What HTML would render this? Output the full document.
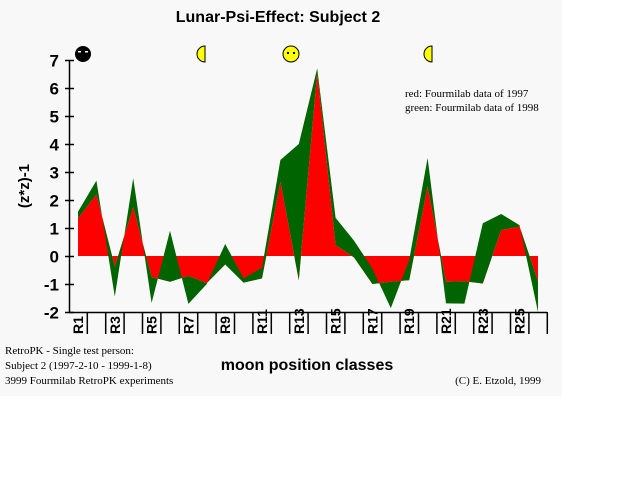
<!DOCTYPE html>
<html><head><meta charset="utf-8"><style>
html,body{margin:0;padding:0;background:#fff;width:640px;height:480px;overflow:hidden}
svg{display:block}
.ax{font-family:"Liberation Sans",Arial,sans-serif;font-weight:bold}
.sr{font-family:"Liberation Serif","Times New Roman",serif}
</style></head><body>
<svg id="s" width="640" height="480" xmlns="http://www.w3.org/2000/svg">
<rect x="0" y="0" width="562" height="396" fill="#f8f8f8"/>
<text x="278" y="22" text-anchor="middle" class="ax" font-size="16">Lunar-Psi-Effect: Subject 2</text>
<polygon id="red" fill="#ff0000"/>
<polygon id="grn" fill="#006400"/>
<g id="axes" stroke="#000" stroke-width="1.5"></g>
<g id="lbl"></g>
<text x="29" y="186" class="ax" font-size="15" text-anchor="middle" transform="rotate(-90 29 186)">(z*z)-1</text>
<text x="307" y="370" class="ax" font-size="16" text-anchor="middle">moon position classes</text>
<text x="5" y="354" class="sr" font-size="11">RetroPK - Single test person:</text>
<text x="5" y="369" class="sr" font-size="11">Subject 2 (1997-2-10 - 1999-1-8)</text>
<text x="5" y="384" class="sr" font-size="11">3999 Fourmilab RetroPK experiments</text>
<text x="541" y="384" class="sr" font-size="11" text-anchor="end">(C) E. Etzold, 1999</text>
<text x="405" y="97" class="sr" font-size="11">red: Fourmilab data of 1997</text>
<text x="405" y="111" class="sr" font-size="11">green: Fourmilab data of 1998</text>
<circle cx="83" cy="54" r="8" fill="#000"/>
<rect x="78" y="51" width="3" height="1.5" fill="#fff"/><rect x="85" y="51" width="3" height="1.5" fill="#fff"/>
<path d="M205 46 A8 8 0 0 0 205 62 Z" fill="#ffff00" stroke="#000" stroke-width="1"/>
<circle cx="291" cy="54" r="8" fill="#ffff00" stroke="#000" stroke-width="1"/>
<rect x="287" y="52" width="2" height="2" fill="#000"/><rect x="293" y="52" width="2" height="2" fill="#000"/>
<path d="M432 46 A8 8 0 0 0 432 62 Z" fill="#ffff00" stroke="#000" stroke-width="1"/>
</svg>
<script>
var r=[1.35,2.2,-0.38,1.75,-0.75,-0.92,-0.71,-0.97,-0.3,-0.95,-0.8,2.65,-0.86,6.55,0.39,-0.05,-1.0,-0.92,-0.86,2.48,-0.92,-0.9,-0.98,0.93,1.05,-0.9];
var g=[1.58,2.69,-1.45,2.78,-1.68,0.9,-1.71,-1.0,0.43,-0.8,-0.42,3.43,4.0,6.7,1.36,0.55,-0.45,-1.86,-0.14,3.5,-1.69,-1.7,1.17,1.5,1.1,-2.0];
function X(i){return 78+i*18.4} function Y(v){return 256-28*v}
var rp=[],gp=[],gb=[];
for(var i=0;i<26;i++){rp.push(X(i)+","+Y(r[i]));gp.push(X(i)+","+Y(g[i]));}
document.getElementById('red').setAttribute('points',X(0)+",256 "+rp.join(" ")+" "+X(25)+",256");
document.getElementById('grn').setAttribute('points',gp.join(" ")+" "+rp.slice().reverse().join(" "));
var ns="http://www.w3.org/2000/svg",ax=document.getElementById('axes'),lb=document.getElementById('lbl');
function L(x1,y1,x2,y2){var l=document.createElementNS(ns,'line');l.setAttribute('x1',x1);l.setAttribute('y1',y1);l.setAttribute('x2',x2);l.setAttribute('y2',y2);ax.appendChild(l);}
L(69.5,60,69.5,313);L(69,312.5,547,312.5);
for(var v=-2;v<=7;v++){var y=Y(v)+0.5;L(65,y,74,y);
 var t=document.createElementNS(ns,'text');t.setAttribute('x',59);t.setAttribute('y',y+6);t.setAttribute('text-anchor','end');t.setAttribute('class','ax');t.setAttribute('font-size','17');t.textContent=v;lb.appendChild(t);}
for(var i=0;i<26;i++){var x=87.3+i*18.4;L(x,312,x,334);}
for(var i=0;i<26;i+=2){var cx=X(i)+5,cy=334;var t=document.createElementNS(ns,'text');t.setAttribute('x',cx);t.setAttribute('y',cy);t.setAttribute('class','ax');t.setAttribute('font-size','14');t.setAttribute('transform','rotate(-90 '+cx+' '+cy+')');t.textContent='R'+(i+1);lb.appendChild(t);}
</script>
</body></html>
